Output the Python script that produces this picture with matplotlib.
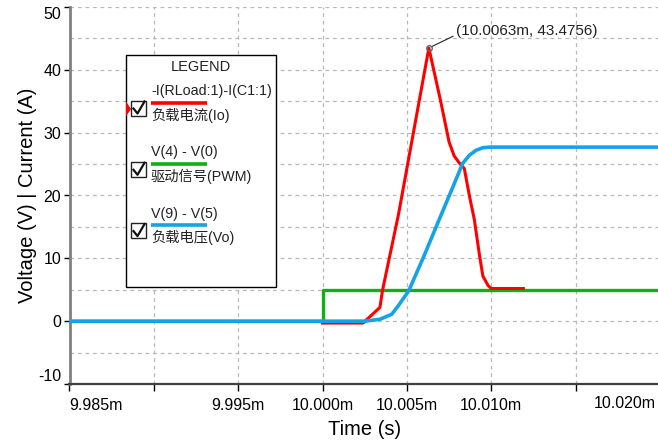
import matplotlib.pyplot as plt
from matplotlib.patches import Rectangle, Polygon
from matplotlib.ticker import MultipleLocator

plt.rcParams["font.family"] = ["Liberation Sans", "Noto Sans CJK SC", "DejaVu Sans"]
plt.rcParams["axes.unicode_minus"] = False

RED = "#ff0000"
GREEN = "#10b010"
BLUE = "#15a3e6"

# time in ms, values in V / A
pwm_t = [9.985, 10.000, 10.000, 10.020]
pwm_v = [0, 0, 5, 5]

vo_t = [9.985, 10.0025, 10.0034, 10.0041, 10.0045, 10.0051, 10.0060, 10.0069,
        10.0077, 10.0083, 10.0087, 10.0091, 10.0095, 10.0099, 10.020]
vo_v = [0, 0, 0.3, 1.1, 2.5, 4.8, 10.3, 16.1, 21.2, 25.1, 26.4, 27.2, 27.6, 27.7, 27.7]

io_t = [10.000, 10.0024, 10.0034, 10.00356, 10.0045, 10.0063, 10.0070, 10.0075,
        10.0078, 10.0081, 10.0084, 10.0087, 10.0090, 10.0093, 10.0095, 10.0098,
        10.0100, 10.0119]
io_v = [-0.3, -0.3, 2.2, 5.0, 17.0, 43.4756, 35.0, 28.5, 26.3, 25.2, 24.3, 20.0,
        16.1, 10.5, 7.2, 5.7, 5.2, 5.2]

peak_t, peak_v = 10.0063, 43.4756

x_ticks = [9.985, 9.990, 9.995, 10.000, 10.005, 10.010, 10.015, 10.020]
x_labels = ["9.985m", "", "9.995m", "10.000m", "10.005m", "10.010m", "", ""]
last_x_label = "10.020m"

legend_rows = [
    ("-I(RLoad:1)-I(C1:1)", "负载电流(Io)", RED),
    ("V(4) - V(0)", "驱动信号(PWM)", GREEN),
    ("V(9) - V(5)", "负载电压(Vo)", BLUE),
]

W, H = 658, 443
fig = plt.figure(figsize=(W / 100, H / 100), dpi=100)
ax = fig.add_axes([69.5 / W, 1 - 384 / H, (660 - 69.5) / W, (384 - 7) / H])

ax.plot(pwm_t, pwm_v, color=GREEN, lw=2.4, zorder=2)
ax.plot(io_t, io_v, color=RED, lw=2.2, zorder=3)
ax.plot(vo_t, vo_v, color=BLUE, lw=2.6, zorder=4)
ax.plot([peak_t], [peak_v], marker="o", ms=4, mfc="none", mec="#666666", mew=1, zorder=5)
ax.annotate("(10.0063m, 43.4756)", xy=(peak_t, peak_v), xytext=(19.5, 12.5),
            textcoords="offset points", ha="left", va="center", fontsize=11,
            color="#222222",
            arrowprops=dict(arrowstyle="-", color="#222222", lw=0.8,
                            relpos=(0, 0.2), shrinkA=0, shrinkB=2))

ax.set_xlim(9.985, 10.020)
ax.set_ylim(-10, 50)
ax.set_xticks(x_ticks)
ax.set_xticklabels(x_labels)
ax.yaxis.set_major_locator(MultipleLocator(10))
ax.yaxis.set_minor_locator(MultipleLocator(5))
ax.tick_params(axis="y", which="minor", length=0)
ax.tick_params(axis="y", which="major", length=4, width=1, pad=2, labelsize=11.5)
ax.tick_params(axis="x", which="major", length=5, width=1, pad=5, labelsize=11.5)

ax.get_xticklabels()[0].set_ha("left")
for lab in ax.get_yticklabels():
    if lab.get_text() == "50":
        lab.set_va("top")
    if lab.get_text() == "-10":
        lab.set_va("bottom")

ax.grid(True, which="both", color="#b8b8b8", ls=(0, (3, 3)), lw=0.9)
ax.set_axisbelow(True)
for side in ("top", "right"):
    ax.spines[side].set_visible(False)
ax.spines["left"].set_color("#808080")
ax.spines["left"].set_linewidth(2)
ax.spines["bottom"].set_color("#404040")
ax.spines["bottom"].set_linewidth(1.6)

ax.set_xlabel("Time (s)", fontsize=14.5, labelpad=5)
ax.set_ylabel("Voltage (V) | Current (A)", fontsize=14.5, labelpad=1)

# legend panel drawn in pixel space on top of the plot
ov = fig.add_axes([0, 0, 1, 1], zorder=10)
ov.set_xlim(0, W)
ov.set_ylim(H, 0)
ov.axis("off")

# right-most time label sits inside the figure edge
ov.text(656, 404, last_x_label, ha="right", va="center", fontsize=11.5)

ov.add_patch(Rectangle((126, 55), 150, 232, fc="white", ec="black", lw=1))
ov.text(201, 67, "LEGEND", ha="center", va="center", fontsize=10.5, color="#222222")
ov.add_patch(Polygon([(126, 101.5), (131, 109), (126, 116.5)], closed=True,
                     fc=RED, ec="none"))

row_top = 91
for i, (expr, name, col) in enumerate(legend_rows):
    y = row_top + i * 61.3
    ov.text(151, y, expr, ha="left", va="center", fontsize=10.3, color="#222222")
    ov.plot([151, 207], [y + 11.5, y + 11.5], color=col, lw=2.6, solid_capstyle="butt")
    ov.text(151, y + 24, name, ha="left", va="center", fontsize=10.3, color="#222222")
    ov.add_patch(Rectangle((131, y + 9.5), 15, 15, fc="none", ec="#222222", lw=1))
    ov.plot([133.5, 137.5, 144.5], [y + 17.5, y + 22.5, y + 10.5],
            color="#111111", lw=1.6)

fig.savefig("out.png", dpi=100)
